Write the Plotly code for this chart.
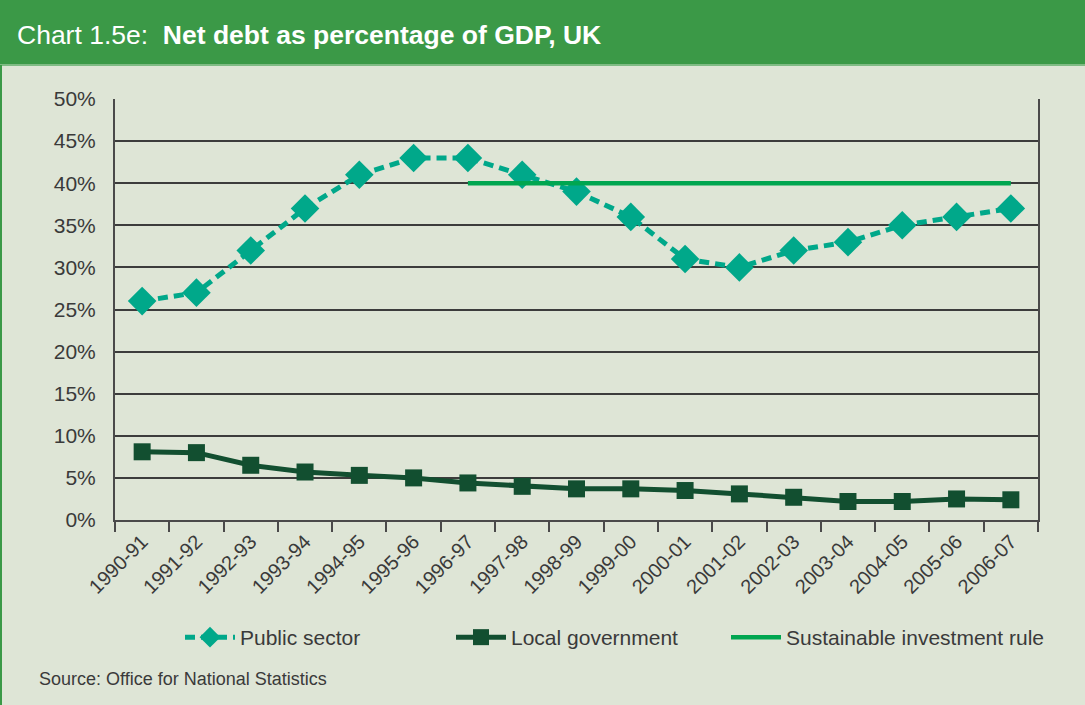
import plotly.graph_objects as go

years = ["1990-91", "1991-92", "1992-93", "1993-94", "1994-95", "1995-96", "1996-97",
         "1997-98", "1998-99", "1999-00", "2000-01", "2001-02", "2002-03", "2003-04",
         "2004-05", "2005-06", "2006-07"]
public_sector = [26, 27, 32, 37, 41, 43, 43, 41, 39, 36, 31, 30, 32, 33, 35, 36, 37]
local_government = [8.1, 8.0, 6.5, 5.7, 5.3, 5.0, 4.4, 4.0, 3.7, 3.7, 3.5, 3.1, 2.7, 2.2, 2.2, 2.5, 2.4]
rule_years = years[6:]
rule_values = [40] * len(rule_years)
y_ticks = [0, 5, 10, 15, 20, 25, 30, 35, 40, 45, 50]
y_tick_text = [f"{v}%" for v in y_ticks]

W, H = 1085, 705
L, R, T, B = 115, 47, 99, 185
PW, PH = W - L - R, H - T - B


def px(X):
    return (X - L) / PW


def py(Y):
    return (H - B - Y) / PH


FONT = "Liberation Sans"
TXT = "#3a3a3a"
BG = "#dee5d6"

fig = go.Figure()
fig.add_trace(go.Scatter(
    x=years, y=public_sector, name="Public sector", mode="lines+markers",
    line=dict(color="#00a88a", width=5, dash="10px,6px"),
    marker=dict(symbol="diamond", size=22, color="#00a88a"),
    legend="legend", showlegend=True,
))
fig.add_trace(go.Scatter(
    x=years, y=local_government, name="Local government", mode="lines+markers",
    line=dict(color="#124f30", width=5),
    marker=dict(symbol="square", size=17, color="#124f30"),
    legend="legend2", showlegend=True,
))
fig.add_trace(go.Scatter(
    x=rule_years, y=rule_values, name="Sustainable investment rule", mode="lines",
    line=dict(color="#00a650", width=4.5),
    legend="legend3", showlegend=True,
))

shapes = [
    dict(type="rect", xref="paper", yref="paper", x0=px(0), x1=px(W), y0=py(64), y1=py(0),
         fillcolor="#3b9947", line=dict(width=0), layer="below"),
    dict(type="line", xref="paper", yref="paper", x0=px(0), x1=px(W), y0=py(65), y1=py(65),
         line=dict(color="#7fbb84", width=2)),
    dict(type="line", xref="paper", yref="paper", x0=px(1), x1=px(1), y0=py(65), y1=py(H),
         line=dict(color="#3b9947", width=2)),
]

annotations = [
    dict(xref="paper", yref="paper", x=px(15), y=py(35), xanchor="left", yanchor="middle",
         showarrow=False,
         text="Chart 1.5e:  <b>Net debt as percentage of GDP, UK</b>",
         font=dict(family=FONT, size=26.5, color="white")),
    dict(xref="paper", yref="paper", x=px(37), y=py(679), xanchor="left", yanchor="middle",
         showarrow=False, text="Source: Office for National Statistics",
         font=dict(family=FONT, size=18, color=TXT)),
]


def legend_at(X):
    return dict(orientation="h", x=px(X), y=py(617), xanchor="left", yanchor="top",
                font=dict(family=FONT, size=21, color=TXT), bgcolor="rgba(0,0,0,0)",
                itemwidth=50, visible=True)


fig.update_layout(
    width=W, height=H,
    margin=dict(l=L, r=R, t=T, b=B),
    paper_bgcolor=BG, plot_bgcolor=BG,
    font=dict(family=FONT, color=TXT),
    showlegend=True,
    shapes=shapes, annotations=annotations,
    legend=legend_at(180),
    legend2=legend_at(451),
    legend3=legend_at(726),
    xaxis=dict(type="category", range=[-0.5, len(years) - 0.5], tickangle=-45,
               tickson="boundaries", ticks="outside", ticklen=10, tickwidth=1.5,
               tickcolor="#4a4a4a", showline=True, linecolor="#4a4a4a", linewidth=2,
               showgrid=False, tickfont=dict(family=FONT, size=20, color=TXT)),
    yaxis=dict(range=[0, 50], tickvals=y_ticks, ticktext=y_tick_text,
               showgrid=True, gridcolor="#3c3c3c", gridwidth=1.5, zeroline=False,
               showline=True, linecolor="#4a4a4a", linewidth=2, mirror=True,
               ticks="", ticklabelstandoff=13,
               tickfont=dict(family=FONT, size=21, color=TXT)),
)

fig.write_html("out.html")
